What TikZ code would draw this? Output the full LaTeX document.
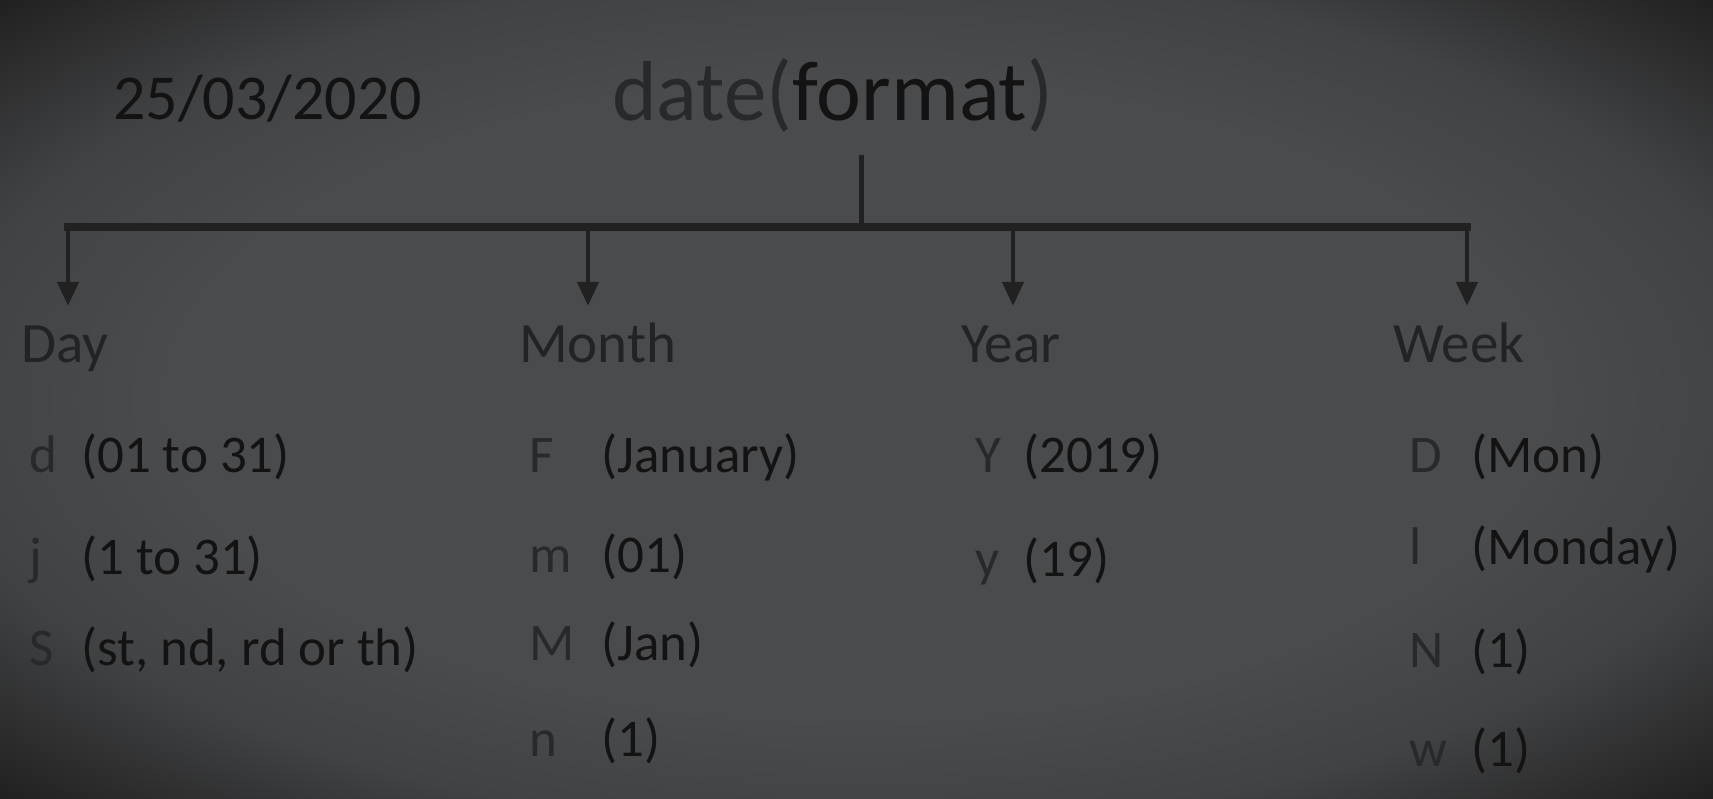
\documentclass[tikz,border=0pt]{standalone}
\usepackage{fontspec}
\setmainfont{Carlito}
\usetikzlibrary{arrows.meta, positioning, calc}
\definecolor{bgmid}{HTML}{4A4B4D}
\definecolor{bgedge}{HTML}{414243}
\definecolor{bgcorner}{HTML}{1E1E1F}
\definecolor{ink}{HTML}{131314}
\definecolor{inkgray}{HTML}{28292A}
\definecolor{headgray}{HTML}{222324}
\definecolor{linegray}{HTML}{212122}
\pgfdeclareradialshading{vignette}{\pgfpoint{0bp}{0bp}}{color(0bp)=(bgmid); color(20bp)=(bgmid); color(27bp)=(bgedge); color(36bp)=(bgcorner); color(50bp)=(bgcorner)}

\begin{document}
\begin{tikzpicture}[x=1pt, y=-1pt,
  head/.style={font=\fontsize{57}{60}\selectfont, text=headgray, anchor=base west, inner sep=0pt, text height=40pt},
  key/.style={font=\fontsize{53}{58}\selectfont, text=inkgray, anchor=base west, inner sep=0pt},
  val/.style={font=\fontsize{53}{58}\selectfont, text=ink, anchor=base west, inner sep=0pt},
  stem/.style={draw=linegray, line width=5pt},
  arr/.style={draw=linegray, line width=4.5pt, shorten >=16pt, -{Triangle[length=24pt, width=21pt]}}]
% background with dark corners
\shade[shading=vignette] (0,0) rectangle (1713,798);
\useasboundingbox (0,0) rectangle (1713,798);

\node[font=\fontsize{64}{70}\selectfont, text=ink, anchor=base west, inner sep=0pt] (today) at (113,119) {25/03/2020};
\node[font=\fontsize{85}{90}\selectfont, anchor=base west, inner sep=0pt] (root) at (612,120)
  {\textcolor{inkgray}{date(}\textcolor{ink}{format}\textcolor{inkgray}{)}};

% the fork
\coordinate (hub) at (861,227);
\coordinate (b1) at (68,227);
\coordinate (b2) at (588,227);
\coordinate (b3) at (1013,227);
\coordinate (b4) at (1467,227);
\draw[stem, shorten <=23pt] (hub |- root.south) -- (hub);
\draw[linegray, line width=8pt, line cap=rect] (b1) -- (b4);

\node[head] (day) at (21,362) {Day};
\node[head] (month) at (519,362) {Month};
\node[head] (year) at (961,362) {Year};
\node[head] (week) at (1393,362) {Week};
\draw[arr] (b1) -- (b1 |- day.north);
\draw[arr] (b2) -- (b2 |- month.north);
\draw[arr] (b3) -- (b3 |- year.north);
\draw[arr] (b4) -- (b4 |- week.north);

% format characters
\foreach \k/\v/\y [count=\i] in {d/{(01 to 31)}/472, j/{(1 to 31)}/574, S/{(st, nd, rd or th)}/665} {
  \node[key] (dk\i) at (29,\y) {\k};
  \node[val] (dv\i) at (81,\y) {\v};
}
\foreach \k/\v/\y [count=\i] in {F/{(January)}/472, m/{(01)}/572, M/{(Jan)}/660, n/{(1)}/756} {
  \node[key] (mk\i) at (529,\y) {\k};
  \node[val] (mv\i) at (601,\y) {\v};
}
\foreach \k/\v/\y [count=\i] in {Y/{(2019)}/472, y/{(19)}/576} {
  \node[key] (yk\i) at (975,\y) {\k};
  \node[val] (yv\i) at (1023,\y) {\v};
}
\foreach \k/\v/\y [count=\i] in {D/{(Mon)}/472, l/{(Monday)}/564, N/{(1)}/667, w/{(1)}/766} {
  \node[key] (wk\i) at (1409,\y) {\k};
  \node[val] (wv\i) at (1471,\y) {\v};
}
\end{tikzpicture}
\end{document}
